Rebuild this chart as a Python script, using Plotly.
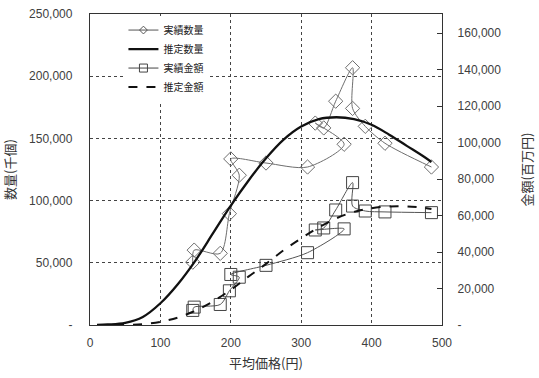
import plotly.graph_objects as go

# ---- data ----
price = [146, 148, 185, 198, 212, 200, 250, 309, 361, 320, 332, 349, 373, 373, 391, 419, 485]
qty_actual = [50500, 60200, 57600, 89500, 120400, 133500, 130200, 127000, 145300,
              162300, 158400, 179900, 206800, 174100, 159700, 146100, 127000]
amount_actual = [8000, 9800, 11250, 18750, 26200, 27700, 32700, 39650, 52700,
                 52100, 53200, 63050, 78060, 65200, 62500, 62000, 61600]

fit_price = [10, 25, 50, 75, 100, 125, 150, 175, 200, 225, 250, 275, 300, 325,
             350, 375, 400, 425, 450, 475, 485]
qty_fit = [0, 400, 1800, 6500, 17500, 33000, 52000, 74000, 96000, 116000, 134000,
           149000, 159500, 165500, 167000, 165500, 161000, 153000, 144000, 135000, 131000]
amount_fit = [0, 10, 90, 490, 1750, 4100, 7900, 13000, 19300, 26500, 33500, 41000,
              47500, 53500, 58500, 62000, 64000, 65000, 65000, 64200, 63600]

names = ["実績数量", "推定数量", "実績金額", "推定金額"]
x_ticks = [0, 100, 200, 300, 400, 500]
y1_ticks = [0, 50000, 100000, 150000, 200000, 250000]
y2_ticks = [0, 20000, 40000, 60000, 80000, 100000, 120000, 140000, 160000]

def fmt(v):
    return "-" if v == 0 else f"{v:,}"

FONT = "Liberation Sans, Noto Sans CJK JP, sans-serif"
JP = "Noto Sans CJK JP, sans-serif"

fig = go.Figure()
fig.add_trace(go.Scatter(x=price, y=qty_actual, mode="lines+markers",
                         line=dict(color="#6e6e6e", width=1, shape="spline", smoothing=0.8),
                         marker=dict(symbol="diamond-open", size=11, color="#6e6e6e",
                                     line=dict(width=1)),
                         showlegend=False, yaxis="y"))
fig.add_trace(go.Scatter(x=fit_price, y=qty_fit, mode="lines",
                         line=dict(color="#111111", width=2.3, shape="spline"),
                         showlegend=False, yaxis="y"))
fig.add_trace(go.Scatter(x=price, y=amount_actual, mode="lines+markers",
                         line=dict(color="#555555", width=1, shape="spline", smoothing=0.8),
                         marker=dict(symbol="square-open", size=12, color="#444444",
                                     line=dict(width=1)),
                         showlegend=False, yaxis="y2"))
fig.add_trace(go.Scatter(x=fit_price, y=amount_fit, mode="lines",
                         line=dict(color="#111111", width=2, dash="dash", shape="spline"),
                         showlegend=False, yaxis="y2"))

# legend entries
fig.add_trace(go.Scatter(x=[None], y=[None], mode="lines+markers", name=names[0],
                         line=dict(color="#555555", width=1),
                         marker=dict(symbol="diamond-open", size=6, color="#555555")))
fig.add_trace(go.Scatter(x=[None], y=[None], mode="lines", name=names[1],
                         line=dict(color="#111111", width=2.3)))
fig.add_trace(go.Scatter(x=[None], y=[None], mode="lines+markers", name=names[2],
                         line=dict(color="#444444", width=1),
                         marker=dict(symbol="square-open", size=8, color="#444444")))
fig.add_trace(go.Scatter(x=[None], y=[None], mode="lines", name=names[3],
                         line=dict(color="#111111", width=2, dash="dash")))

fig.update_layout(
    width=539, height=378,
    margin=dict(l=90, r=95, t=7, b=53),
    paper_bgcolor="white", plot_bgcolor="white",
    font=dict(family=FONT, size=12, color="#404040"),
    xaxis=dict(range=[0, 500], tickvals=x_ticks, ticktext=[str(v) for v in x_ticks],
               showgrid=True, gridcolor="#444444", griddash="dot", gridwidth=1,
               showline=True, linecolor="#333333", linewidth=1.3, mirror=True,
               zeroline=False, ticks="", ticklabelstandoff=6,
               title=dict(text="平均価格(円)", font=dict(family=JP, size=13, color="#333333"),
                          standoff=10)),
    yaxis=dict(range=[0, 250000], tickvals=y1_ticks, ticktext=[fmt(v) for v in y1_ticks],
               showgrid=True, gridcolor="#444444", griddash="dot", gridwidth=1,
               showline=True, linecolor="#333333", linewidth=1.3, mirror=True,
               zeroline=False, ticks="", ticklabelstandoff=14,
               title=dict(text="数量(千個)", font=dict(family=JP, size=13, color="#333333"),
                          standoff=12)),
    yaxis2=dict(range=[0, 170500], tickvals=y2_ticks, ticktext=[fmt(v) for v in y2_ticks],
                overlaying="y", side="right", showgrid=False, zeroline=False,
                showline=True, linecolor="#333333", linewidth=1.3,
                ticks="inside", ticklen=5, tickcolor="#333333", ticklabelstandoff=12,
                title=dict(text="金額(百万円)", font=dict(family=JP, size=13, color="#333333"),
                           standoff=22)),
    legend=dict(x=0.095, y=0.995, xanchor="left", yanchor="top", bgcolor="white",
                font=dict(family=JP, size=10, color="#222222"),
                itemwidth=30, tracegroupgap=0),
)

fig.write_html("out.html")
